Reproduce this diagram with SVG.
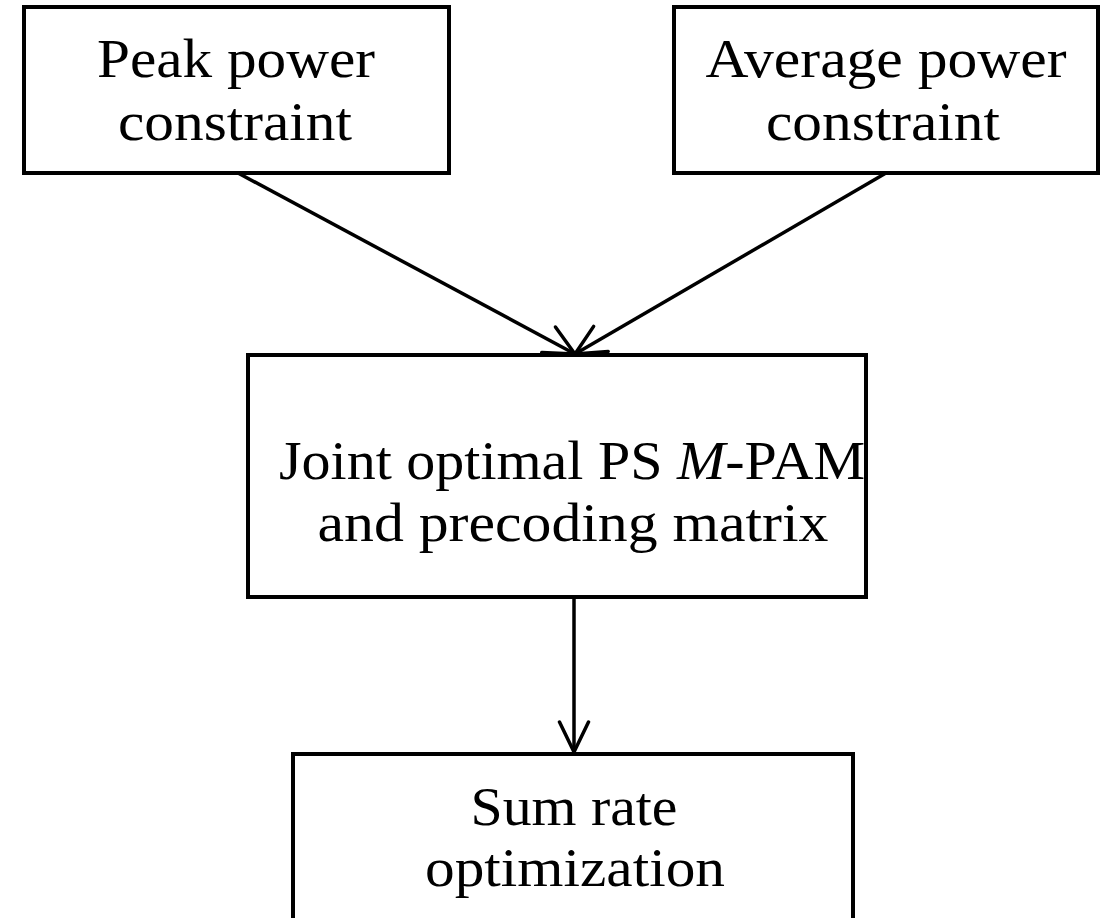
<svg xmlns="http://www.w3.org/2000/svg" width="1114" height="918" viewBox="0 0 1114 918">
<style>
.box{fill:#fff;stroke:#000;stroke-width:4}
.lbl{font-family:"Liberation Serif","DejaVu Serif",serif;font-size:54px;fill:#000;text-anchor:middle}
.conn{stroke:#000;stroke-width:3.5;fill:none}
</style>
<defs>
<marker id="arr" markerUnits="userSpaceOnUse" viewBox="-34 -17 36 34" refX="0" refY="0" markerWidth="36" markerHeight="34" orient="auto">
<path d="M-30,-14.5 L0,0 L-30,14.5" fill="none" stroke="#000" stroke-width="3.5" stroke-linecap="round" stroke-linejoin="miter"/>
</marker>
</defs>
<rect width="1114" height="918" fill="#fff"/>
<g id="peak">
<rect class="box" x="24" y="7" width="425" height="166"/>
<text class="lbl" x="236" y="77" textLength="278" lengthAdjust="spacingAndGlyphs">Peak power</text>
<text class="lbl" x="235" y="140" textLength="234" lengthAdjust="spacingAndGlyphs">constraint</text>
</g>
<g id="average">
<rect class="box" x="674" y="7" width="424" height="166"/>
<text class="lbl" x="886" y="77" textLength="361" lengthAdjust="spacingAndGlyphs">Average power</text>
<text class="lbl" x="883" y="140" textLength="234" lengthAdjust="spacingAndGlyphs">constraint</text>
</g>
<g id="joint">
<rect class="box" x="248" y="355" width="618" height="242"/>
<text class="lbl" x="572" y="479" textLength="586" lengthAdjust="spacingAndGlyphs">Joint optimal PS <tspan font-style="italic">M</tspan>-PAM</text>
<text class="lbl" x="573" y="541" textLength="511" lengthAdjust="spacingAndGlyphs">and precoding matrix</text>
</g>
<g id="sumrate">
<rect class="box" x="293" y="754" width="560" height="180"/>
<text class="lbl" x="574" y="825" textLength="207" lengthAdjust="spacingAndGlyphs">Sum rate</text>
<text class="lbl" x="575" y="886" textLength="300" lengthAdjust="spacingAndGlyphs">optimization</text>
</g>
<g id="connectors">
<line class="conn" x1="238" y1="173" x2="575" y2="354" marker-end="url(#arr)"/>
<line class="conn" x1="886" y1="173" x2="575" y2="354" marker-end="url(#arr)"/>
<line class="conn" x1="574" y1="597" x2="574" y2="752" marker-end="url(#arr)"/>
</g>
</svg>
